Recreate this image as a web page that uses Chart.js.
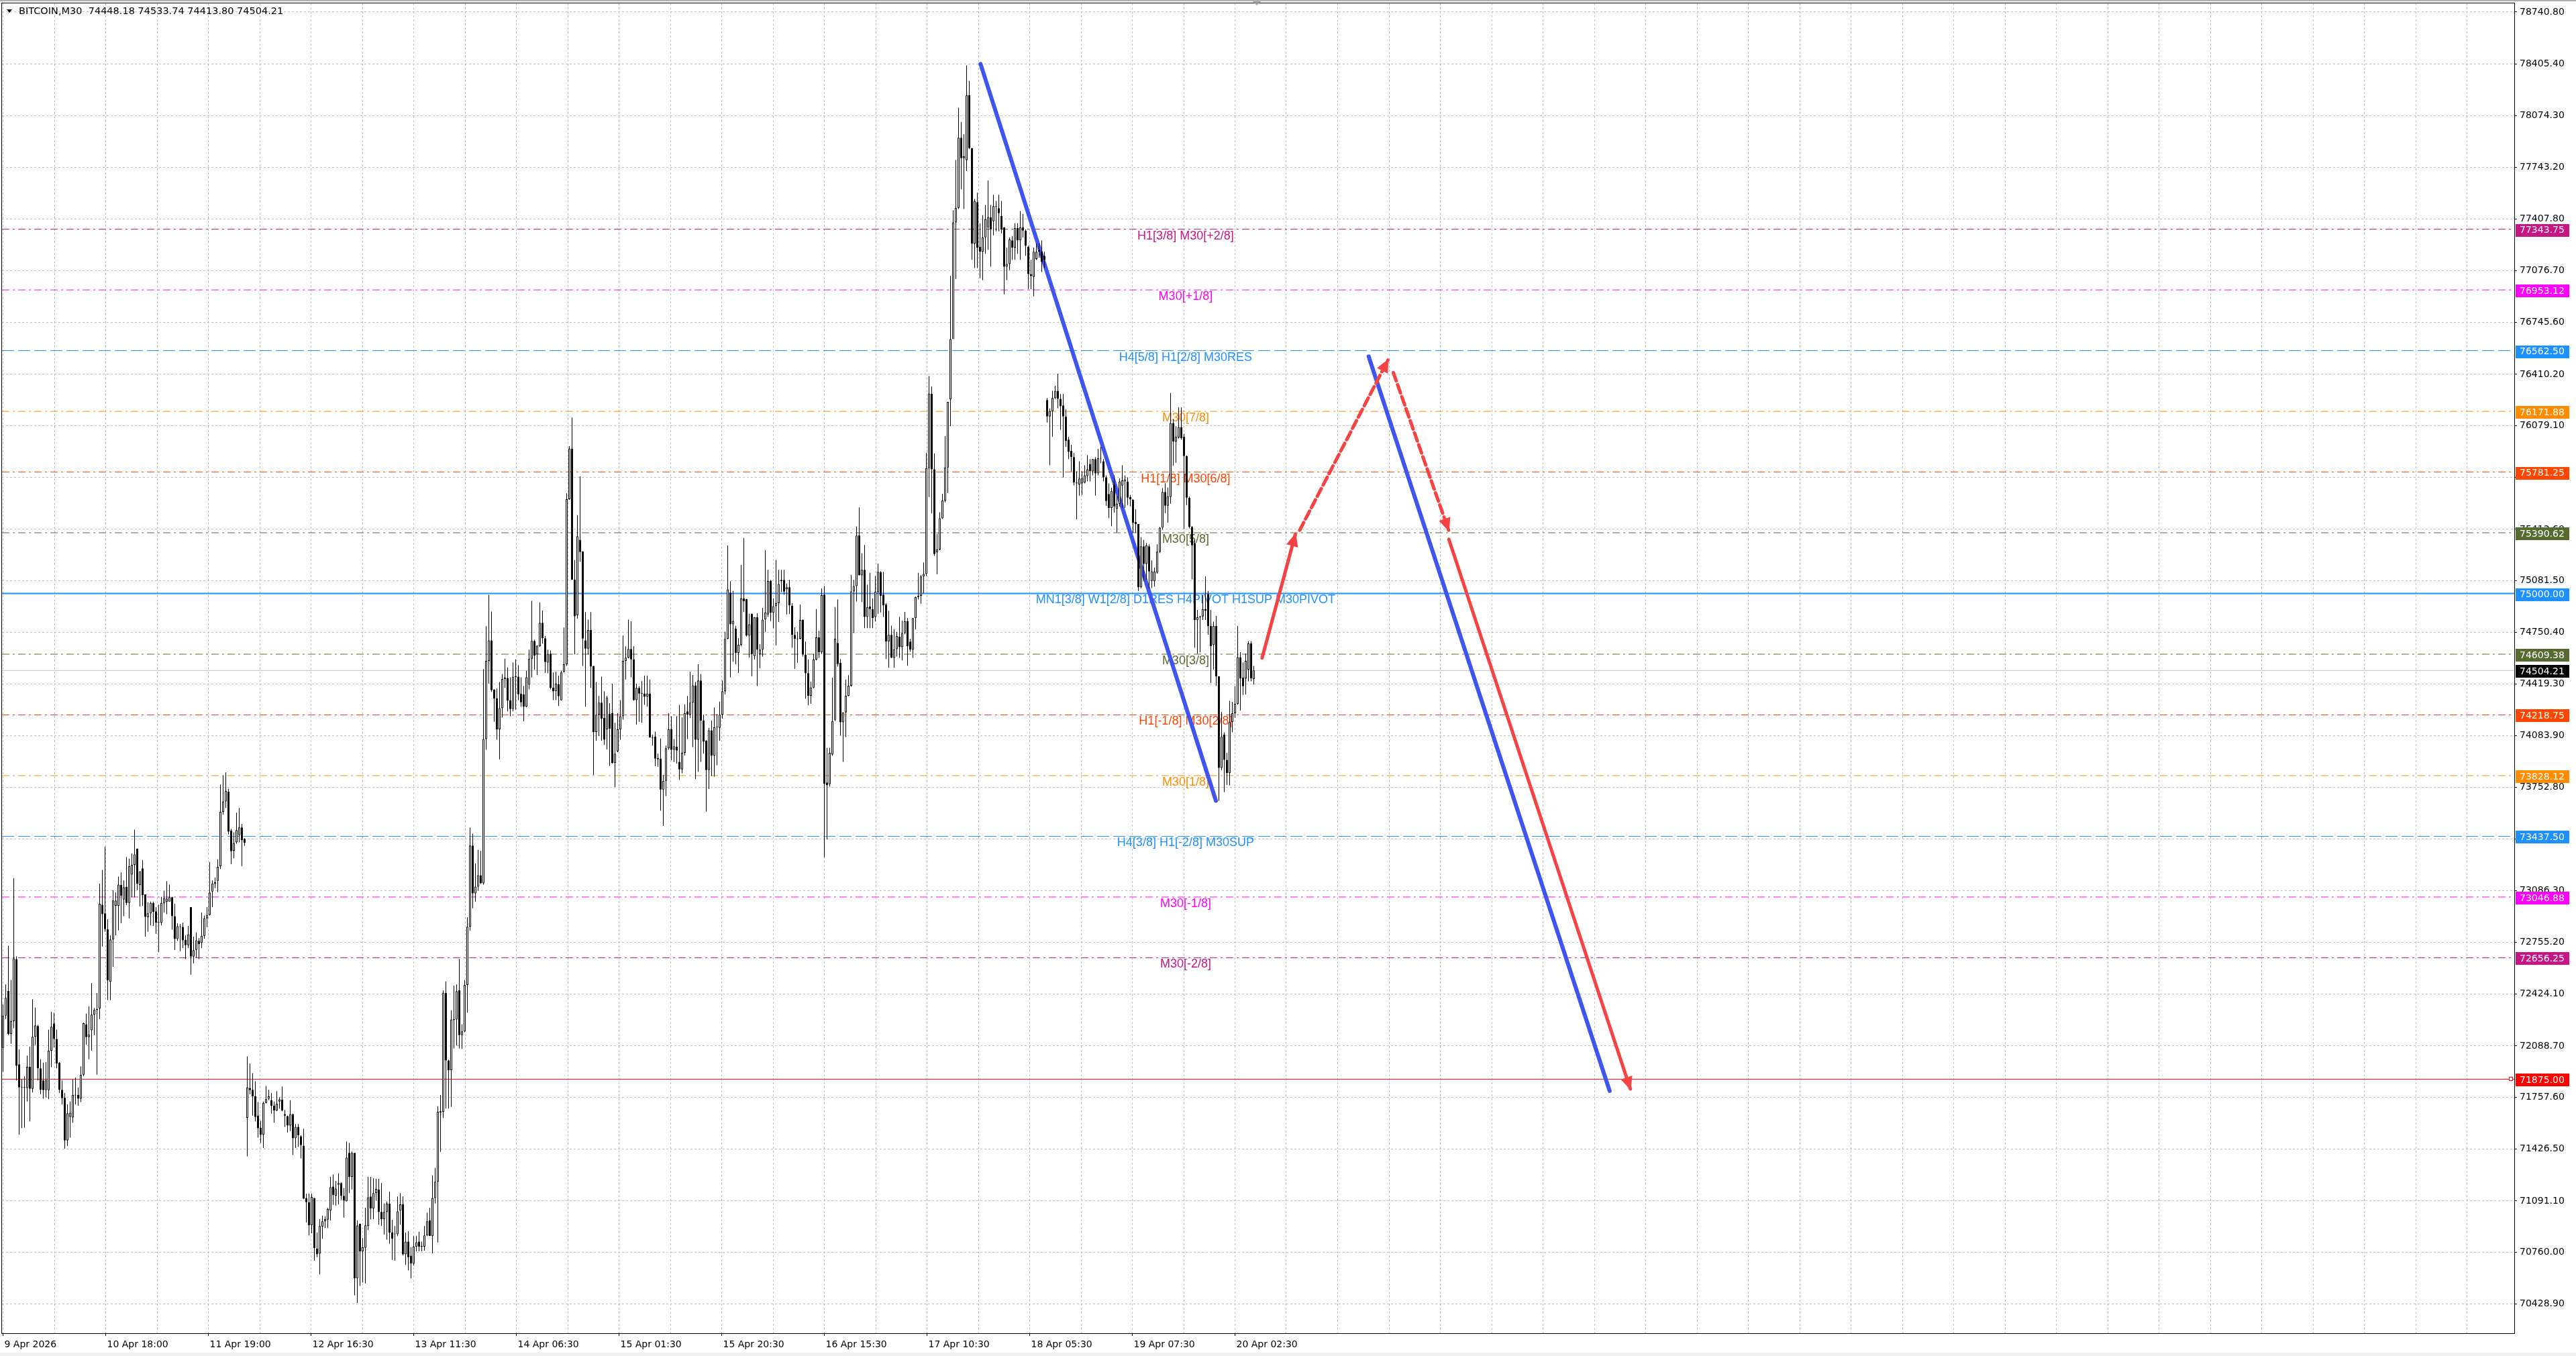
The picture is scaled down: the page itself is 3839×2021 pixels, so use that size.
<!DOCTYPE html>
<html><head><meta charset="utf-8">
<script src="https://cdn.jsdelivr.net/npm/chart.js@4.4.1/dist/chart.umd.min.js"></script>
<style>html,body{margin:0;padding:0;background:#fff;overflow:hidden}#wrap{width:3839px;height:2021px;position:relative}</style>
</head><body><div id="wrap"><canvas id="c"></canvas></div>
<script>
// ---------------- DATA ----------------
const SYMBOL = 'BITCOIN,M30';
const OPEN = [
72076,72284,72442,72166,72248,72647,71971,71822,71820,71818,
71954,71813,72148,72217,71945,71867,71804,71804,72058,72233,
72134,71981,71807,71755,71481,71632,71628,71771,71773,71749,
71904,72226,72145,72190,72290,72320,72330,72997,72942,72841,
72502,72774,72991,72991,73124,73031,73113,73009,73191,73254,
73359,73124,73231,73064,72917,72942,73009,72955,72883,72881,
73006,73015,73018,73046,72924,72777,72855,72855,72772,72737,
72982,72663,72707,72765,72752,72797,72910,72931,73082,73131,
73151,73245,73595,73662,73726,73475,73345,73399,73445,73495,
73421,71626,71818,71807,71767,71640,71563,71517,71722,71749,
71740,71704,71673,71731,71744,71650,71637,71577,71650,71495,
71568,71508,71447,71111,71084,70935,71111,70785,70752,70926,
70961,70971,71030,71184,71124,71196,71206,71124,71090,71401,
71247,71401,70594,70945,70767,70790,70930,71120,71044,71142,
71166,71021,70975,71021,71075,70888,70880,70877,71030,71069,
70748,70830,70739,70689,70797,70830,70797,70797,70870,70966,
70866,71111,71215,71661,71665,72430,71995,71933,72262,72259,
72448,72158,72182,72481,72856,73378,73070,73114,73187,73135,
74063,74566,74698,74383,74325,74126,74262,74450,74456,74314,
74256,74465,74465,74356,74352,74272,74413,74580,74695,74608,
74660,74811,74712,74555,74612,74394,74371,74415,74314,74496,
74545,75607,75933,75089,74860,75345,75271,74698,74645,74765,
74534,74109,74220,74298,74199,74126,74226,74230,73910,73983,
74126,74210,74566,74587,74643,74576,74314,74392,74356,74356,
74335,74356,74073,74078,73941,73937,73738,73795,74004,74126,
73994,74015,73916,73868,73975,74241,74220,74298,74409,74059,
74440,74182,74052,73864,74119,73958,74140,74136,74220,74371,
74708,75005,74802,74775,74618,74670,74968,74964,74729,74869,
74597,74848,74608,74639,74833,74865,75080,74876,74918,74937,
75088,75088,75027,75040,74921,74734,74709,74709,74830,74607,
74487,74342,74395,74575,74717,74621,74993,73784,73773,73964,
74187,74682,74554,74171,74235,74342,74406,75013,75048,75375,
75117,75152,74849,74916,74900,74849,75009,75136,74993,74929,
74690,74734,74586,74642,74722,74655,74745,74822,74690,74639,
74841,74977,74985,75109,75125,75806,76285,75799,75266,75283,
75484,75598,75811,76249,76636,77387,77481,77932,77801,77788,
78206,77866,77251,77518,77230,77199,77291,77356,77421,77395,
77492,77479,77429,77356,77102,77120,77272,77225,77351,77272,
77356,77335,77230,77055,77037,77152,77212,77199,77173,76244,
76139,76173,76257,76304,76252,76210,76139,75990,75917,75878,
75713,75700,75708,75713,75755,75833,75786,75865,75773,75870,
75851,75747,75640,75551,75700,75545,75577,75694,75721,75719,
75621,75603,75460,75447,75040,75303,75190,75303,75081,75079,
75134,75269,75423,75653,75565,75621,76097,75977,76004,76071,
76009,75884,75616,75428,75325,74828,74846,74852,74900,74997,
74791,74669,74791,74467,73878,74091,73929,73844,74172,74229,
74290,74590,74459,74453,74510,74678,74448.18];
const HIGH = [
72357,72484,72734,72514,73169,72665,72067,71876,71894,72027,
72085,72389,72335,72224,72003,71981,71985,72194,72308,72302,
72194,71985,71867,71786,71713,71731,71876,71885,71822,71958,
72239,72297,72344,72493,72333,72429,73133,73222,73372,72904,
72801,73091,73077,73178,73205,73154,73303,73294,73327,73481,
73359,73212,73285,73064,73013,73018,73018,72982,72997,73049,
73086,73149,73127,73049,73004,72877,72873,72882,72801,72861,
72982,72792,72819,72783,72946,72928,72982,73272,73154,73173,
73290,73771,73829,73849,73744,73486,73463,73590,73620,73517,
73426,72021,71976,71913,71862,71728,71608,71731,71831,71807,
71786,71731,71798,71758,71827,71677,71640,71740,71653,71586,
71586,71514,71556,71138,71138,71138,71111,70888,70975,70997,
70993,71048,71247,71262,71220,71269,71211,71175,71474,71465,
71410,71401,70966,70945,70852,71048,71247,71247,71238,71233,
71233,71207,71075,71088,71151,70970,70930,71120,71142,71120,
70888,70897,70794,70866,70866,70894,70830,70930,71015,71048,
71256,71305,71701,71773,72445,72504,72000,72318,72477,72484,
72648,72227,72513,72916,73493,73455,73263,73351,73345,74513,
74790,74991,74884,74383,74388,74430,74482,74580,74524,74461,
74555,74576,74538,74461,74404,74503,74639,74953,74702,74664,
74943,74890,74727,74639,74633,74492,74497,74471,74503,74781,
75644,75948,76132,75215,75504,75753,75271,74880,74832,74880,
74534,74430,74341,74465,74371,74341,74293,74419,74168,74230,
74314,74729,74660,74832,74821,74660,74419,74404,74436,74471,
74471,74446,74090,74111,73969,74067,73832,74021,74230,74210,
74063,74210,74283,74203,74287,74341,74497,74476,74430,74545,
74482,74220,74056,74136,74182,74266,74224,74304,74440,74754,
75309,75079,75016,74792,74712,75184,75357,74964,74869,74869,
74848,74873,74674,74907,75280,75152,75088,74969,75216,75152,
75152,75152,75064,75088,74937,74782,74753,74929,74833,74690,
74575,74434,74610,74900,74761,75032,75048,74007,74007,74458,
74913,74961,74578,74235,74446,74474,75120,75088,75431,75554,
75259,75312,75056,75133,74969,75112,75192,75144,75139,74937,
74889,74793,74769,74753,74849,74825,74881,74841,74709,74841,
74980,75133,75120,75200,75906,76399,76332,75901,75384,75522,
75640,76012,76233,77043,77465,77789,78126,78034,77955,78398,
78298,77866,77539,77578,77382,77434,77500,77657,77500,77565,
77526,77565,77526,77356,77225,77290,77300,77382,77382,77461,
77442,77343,77238,77147,77225,77251,77251,77272,77199,76257,
76191,76304,76336,76414,76283,76283,76184,76008,75956,75904,
75786,75851,75786,75825,75891,75865,75865,75878,75930,75943,
75865,75760,75708,75680,75760,75629,75740,75825,75760,75747,
75634,75606,75541,75447,75363,75344,75325,75316,75213,75166,
75316,75428,75678,75709,75681,76290,76122,76075,76197,76197,
76028,75888,75625,75434,75344,74894,74857,74990,75110,75016,
74894,74819,74856,74467,74238,74107,73975,74309,74303,74403,
74791,74622,74556,74613,74692,74692,74533.74];
const LOW = [
71922,72262,72157,72103,72203,71867,71517,71559,71564,71731,
71604,71789,72097,71867,71777,71749,71758,71746,71952,72079,
71945,71786,71713,71428,71445,71499,71595,71713,71704,71728,
71894,72097,72003,72058,72157,71904,72261,72728,72823,72384,
72384,72598,72801,72832,72879,72924,72995,72910,73046,73046,
73091,72986,72991,72792,72823,72864,72861,72810,72692,72864,
72946,72937,73018,72837,72707,72765,72698,72719,72647,72719,
72547,72620,72656,72647,72719,72779,72852,72928,72982,73104,
73078,73227,73577,73620,73450,73258,73296,73390,73399,73245,
73376,71378,71777,71640,71604,71499,71465,71432,71719,71740,
71653,71595,71668,71686,71668,71568,71532,71541,71387,71432,
71441,71365,71103,70953,70870,70884,70707,70730,70618,70848,
70917,70917,70966,71066,71062,71069,71099,70984,71088,71142,
71166,70485,70435,70545,70567,70561,70903,70972,70975,71093,
70939,70930,70875,70843,70816,70712,70707,70866,70939,70740,
70680,70645,70594,70676,70767,70767,70767,70772,70866,70866,
70754,71075,70825,71407,71625,71686,71686,71697,72073,72091,
72073,72069,72178,72303,72830,72974,73016,73089,73131,73127,
73994,74419,74367,74174,74059,73933,74203,74392,74241,74210,
74241,74252,74314,74272,74178,74268,74383,74461,74509,74476,
74656,74677,74488,74486,74383,74314,74314,74276,74310,74492,
74534,75603,75089,74608,74838,75204,74534,74272,74608,74392,
73832,74053,74084,74053,74025,73996,73891,73906,73755,73979,
74059,74189,74446,74582,74461,74310,74157,74174,74168,74283,
74272,74073,74021,73889,73885,73602,73504,73696,73994,73927,
73916,73906,73801,73843,73958,74063,74199,74011,73805,73853,
73916,73969,73596,73742,73826,73822,73895,74053,74195,74350,
74706,74461,74561,74545,74488,74660,74880,74723,74587,74467,
74576,74404,74519,74593,74753,74849,74822,74777,74666,74817,
75009,74993,74865,74868,74650,74514,74554,74706,74594,74323,
74280,74291,74390,74570,74586,74610,73302,73417,73757,73956,
74179,74530,74087,73916,74076,74339,74400,74745,74948,75117,
74945,74777,74777,74777,74777,74820,74868,74878,74849,74578,
74522,74586,74522,74594,74586,74570,74737,74535,74626,74586,
74769,74961,74934,75000,75112,75621,75515,75242,75124,75278,
75479,75586,75645,76076,77024,77024,77474,77600,77474,77718,
77860,77147,77094,77094,77029,77016,77186,77212,77102,77304,
77330,77330,77317,76924,77016,77081,77146,77147,77186,77147,
77291,77173,76958,76958,76911,77147,77160,77068,77094,76100,
75825,76008,76250,76192,76053,75747,75943,75865,75786,75695,
75477,75629,75634,75708,75721,75721,75760,75629,75760,75838,
75721,75564,75485,75433,75520,75393,75560,75551,75551,75569,
75560,75391,75391,75016,75034,75081,75091,75035,75035,75044,
75128,75260,75410,75516,75456,75578,75822,75841,75996,75990,
75415,75569,75419,75091,74650,74613,74622,74830,74830,74735,
74425,74510,74407,73666,73863,73722,73769,73765,74107,74200,
74285,74247,74347,74350,74435,74435,74413.80];
const CLOSE = [
72284,72398,72166,72248,72652,71961,71822,71820,71822,71954,
71813,72148,72221,71945,71807,71804,71867,72058,72212,72134,
71976,71807,71753,71481,71655,71659,71773,71773,71749,71904,
72235,72145,72163,72290,72320,72326,73004,72937,72841,72511,
72774,73024,73024,73127,73055,73109,73009,73245,73254,73321,
73133,73212,73060,72919,72942,73009,72951,72883,72881,73009,
73040,73037,73046,72924,72777,72859,72859,72768,72737,72806,
72663,72705,72768,72743,72797,72910,72931,73076,73134,73142,
73241,73595,73662,73729,73468,73341,73394,73477,73495,73414,
73396,71822,71804,71764,71632,71559,71517,71722,71746,71764,
71704,71673,71717,71744,71673,71640,71577,71650,71495,71568,
71514,71450,71106,71084,70935,71117,70788,70748,70930,70961,
70975,71039,71180,71130,71171,71206,71124,71093,71371,71247,
71401,70594,70934,70767,70794,70935,71115,71044,71142,71169,
71021,70975,71021,71075,70888,70848,70877,71024,71069,70748,
70830,70730,70689,70797,70826,70797,70799,70870,70961,70866,
71111,71215,71665,71668,72432,71995,71933,72259,72254,72441,
72158,72182,72481,72856,73378,73070,73114,73187,73135,74063,
74566,74698,74377,74325,74126,74262,74450,74461,74310,74256,
74465,74463,74352,74300,74272,74461,74580,74695,74601,74664,
74811,74712,74559,74612,74392,74371,74419,74339,74492,74545,
75607,75933,75089,74853,75368,75267,74710,74645,74765,74530,
74109,74220,74298,74195,74059,74331,74130,73910,73969,74126,
74210,74566,74587,74643,74576,74314,74392,74356,74354,74335,
74356,74073,74071,73937,73933,73738,73795,74004,74126,73994,
74017,73990,73868,73975,74230,74220,74298,74409,74059,74440,
74182,74048,73864,74119,73958,74140,74144,74220,74371,74708,
75026,74802,74823,74618,74670,74968,74949,74729,74802,74608,
74848,74639,74639,74832,74878,75080,74876,74918,74937,75061,
75080,75012,75040,74924,74734,74709,74707,74830,74607,74487,
74342,74395,74575,74717,74621,74989,73776,73768,73975,74179,
74709,74546,74171,74235,74342,74406,75013,75048,75372,75117,
75152,74849,74913,74900,74841,75012,75139,74985,74924,74690,
74734,74586,74642,74726,74655,74745,74822,74661,74639,74841,
74977,74985,75109,75125,75806,76285,75799,75254,75283,75484,
75598,75811,76233,76636,77387,77481,77932,77801,77813,78204,
77866,77251,77526,77225,77199,77291,77408,77421,77343,77492,
77490,77447,77343,77102,77120,77277,77225,77351,77272,77356,
77335,77238,77055,77042,77199,77199,77199,77134,77147,76139,
76173,76257,76304,76252,76205,76139,75982,75912,75878,75713,
75708,75739,75742,75760,75799,75786,75865,75773,75870,75868,
75747,75595,75551,75660,75560,75577,75721,75728,75734,75616,
75606,75456,75447,75040,75303,75190,75310,75141,75143,75141,
75269,75423,75653,75565,75625,76097,75977,76009,76071,76000,
75884,75616,75428,75310,74828,74847,74852,74900,74890,74791,
74660,74791,74467,73878,74079,73929,73844,74172,74229,74290,
74590,74453,74403,74566,74678,74453,74504.21];

const X_TICK_LABELS = ['9 Apr 2026','10 Apr 18:00','11 Apr 19:00','12 Apr 16:30','13 Apr 11:30','14 Apr 06:30','15 Apr 01:30','15 Apr 20:30','16 Apr 15:30','17 Apr 10:30','18 Apr 05:30','19 Apr 07:30','20 Apr 02:30'];
const Y_TICKS = [78740.80,78405.40,78074.30,77743.20,77407.80,77076.70,76745.60,76410.20,76079.10,75748.00,75412.60,75081.50,74750.40,74419.30,74083.90,73752.80,73421.70,73086.30,72755.20,72424.10,72088.70,71757.60,71426.50,71091.10,70760.00,70428.90];

const LEVEL_PRICES = [77343.75,76953.12,76562.50,76171.88,75781.25,75390.62,75000.00,74609.38,74218.75,73828.12,73437.50,73046.88,72656.25,71875.00];
const LEVEL_LABELS = ['H1[3/8] M30[+2/8]','M30[+1/8]','H4[5/8] H1[2/8] M30RES','M30[7/8]','H1[1/8] M30[6/8]','M30[5/8]','MN1[3/8] W1[2/8] D1RES H4PIVOT H1SUP M30PIVOT','M30[3/8]','H1[-1/8] M30[2/8]','M30[1/8]','H4[3/8] H1[-2/8] M30SUP','M30[-1/8]','M30[-2/8]',''];

// drawn objects: [bar index, price]
const BLUE_LINE_1 = [[364.2,78407],[451.9,73666]];
const BLUE_LINE_2 = [[508.8,76525],[598.6,71799]];
const RED_UP      = [[469.1,74585],[481.5,75381]];
const RED_DASH_UP = [[483.1,75407],[516.0,76502]];
const RED_DASH_DN = [[518.0,76421],[538.6,75407]];
const RED_DOWN    = [[538.7,75348],[606.3,71812]];

// ---------------- STYLE / LAYOUT ----------------
const LEVEL_COLORS = ['#C71585','#FF00FF','#1E90FF','#FF8C00','#FF4500','#556B2F','#1E90FF','#556B2F','#FF4500','#FF8C00','#1E90FF','#FF00FF','#C71585','#FF0000'];
const DASHDOT = [11,5,3,5], DASH = [18,6];
const LEVEL_DASH = [DASHDOT,DASHDOT,DASH,DASHDOT,DASHDOT,DASHDOT,[],DASHDOT,DASHDOT,DASHDOT,DASH,DASHDOT,DASHDOT,[]];
const LEVEL_WIDTH = [1,1,1,1,1,1,2,1,1,1,1,1,1,1];
const X_MIN = -0.375, X_MAX = 935.625, Y_MIN = 70240.6, Y_MAX = 78796.9;
const GRID_STEP = 19.125, GRID_COUNT = 48, LABEL_BAR = 440.6;
const BLUE = '#3F55F0', RED = '#F54242';
const FONT = '"DejaVu Sans", Verdana, sans-serif';

const N = CLOSE.length;
const wickData = [], bodyData = [];
for (let i = 0; i < N; i++) {
  wickData.push({x: i, y: [LOW[i], HIGH[i]]});
  bodyData.push({x: i, y: [Math.min(OPEN[i], CLOSE[i]), Math.max(OPEN[i], CLOSE[i])]});
}
const pts = a => a.map(p => ({x: p[0], y: p[1]}));
const datasets = [];
LEVEL_PRICES.forEach((p, k) => datasets.push({
  type: 'line', data: [{x: X_MIN, y: p}, {x: X_MAX, y: p}], borderColor: LEVEL_COLORS[k],
  borderWidth: LEVEL_WIDTH[k], borderDash: LEVEL_DASH[k], pointRadius: 0, fill: false, order: 20
}));
datasets.push({type: 'line', data: [{x: X_MIN, y: CLOSE[N-1]}, {x: X_MAX, y: CLOSE[N-1]}], borderColor: '#C0C0C0', borderWidth: 1, pointRadius: 0, fill: false, order: 19});
const seg = (a, color, w, dash, order) => ({type: 'line', data: pts(a), borderColor: color, borderWidth: w, borderDash: dash, borderCapStyle: 'round', pointRadius: 0, fill: false, tension: 0, order});
datasets.push(seg(BLUE_LINE_1, BLUE, 6, [], 15));
datasets.push(seg(BLUE_LINE_2, BLUE, 6, [], 15));
datasets.push({type: 'bar', data: wickData, backgroundColor: '#000', borderWidth: 0, barThickness: 1, grouped: false, inflateAmount: 0, order: 6});
datasets.push({type: 'bar', data: bodyData, grouped: false, barThickness: 3, inflateAmount: 0, minBarLength: 1,
  backgroundColor: c => (CLOSE[c.dataIndex] >= OPEN[c.dataIndex] ? '#FFFFFF' : '#000000'),
  borderColor: '#000', borderWidth: 1, borderSkipped: false, order: 5});
datasets.push(seg(RED_UP, RED, 5, [], 1));
datasets.push(seg(RED_DASH_UP, RED, 5, [13, 6], 1));
datasets.push(seg(RED_DASH_DN, RED, 5, [13, 6], 1));
datasets.push(seg(RED_DOWN, RED, 5, [], 1));

function arrowHead(ctx, x0, y0, x1, y1, len, hw) {
  const dx = x1 - x0, dy = y1 - y0, L = Math.hypot(dx, dy), ux = dx / L, uy = dy / L;
  const bx = x1 - ux * len, by = y1 - uy * len;
  ctx.beginPath();
  ctx.moveTo(x1 + ux * 2, y1 + uy * 2);
  ctx.lineTo(bx - uy * hw, by + ux * hw);
  ctx.lineTo(bx + uy * hw, by - ux * hw);
  ctx.closePath(); ctx.fill();
}

const overlay = {
  id: 'overlay',
  beforeDatasetsDraw(chart) {
    const {ctx, scales: {x, y}} = chart;
    ctx.save();
    ctx.font = '18px "Liberation Sans", Arial, sans-serif';
    ctx.textAlign = 'center'; ctx.textBaseline = 'middle';
    LEVEL_PRICES.forEach((p, k) => {
      if (!LEVEL_LABELS[k]) return;
      ctx.fillStyle = LEVEL_COLORS[k];
      ctx.fillText(LEVEL_LABELS[k], x.getPixelForValue(LABEL_BAR), y.getPixelForValue(p) + 10);
    });
    ctx.restore();
  },
  afterDatasetsDraw(chart) {
    const {ctx, scales: {x, y}} = chart;
    ctx.save();
    ctx.fillStyle = RED;
    [RED_UP, RED_DASH_UP, RED_DASH_DN, RED_DOWN].forEach(a => {
      arrowHead(ctx, x.getPixelForValue(a[0][0]), y.getPixelForValue(a[0][1]), x.getPixelForValue(a[1][0]), y.getPixelForValue(a[1][1]), 18, 9);
    });
    const ry = Math.round(y.getPixelForValue(LEVEL_PRICES[LEVEL_PRICES.length - 1]));
    ctx.fillStyle = '#fff'; ctx.fillRect(3739, ry - 2, 5, 5);
    ctx.strokeStyle = '#FF0000'; ctx.lineWidth = 1; ctx.strokeRect(3739.5, ry - 2.5, 5, 5);
    ctx.restore();
  },
  afterDraw(chart) {
    const {ctx, chartArea: a, scales: {y}} = chart;
    ctx.save();
    ctx.strokeStyle = '#000'; ctx.lineWidth = 1;
    ctx.strokeRect(a.left - 0.5, a.top - 0.5, a.right - a.left + 1, a.bottom - a.top + 1);
    ctx.fillStyle = '#B0B0B0'; ctx.fillRect(0, 0, 3839, 2);
    ctx.fillStyle = '#EFEFEF'; ctx.fillRect(0, 2016, 3839, 5);
    ctx.fillStyle = '#A0A0A0';
    ctx.beginPath(); ctx.moveTo(1867, 2); ctx.lineTo(1879, 2); ctx.lineTo(1873, 8); ctx.closePath(); ctx.fill();
    ctx.font = '14px ' + FONT; ctx.textAlign = 'left'; ctx.textBaseline = 'middle';
    const box = (p, col) => {
      const py = y.getPixelForValue(p);
      ctx.fillStyle = col; ctx.fillRect(3749, Math.round(py - 8), 80, 19);
      ctx.fillStyle = '#fff'; ctx.fillText(p.toFixed(2), 3755, py + 2);
    };
    LEVEL_PRICES.forEach((p, k) => box(p, LEVEL_COLORS[k]));
    box(CLOSE[N - 1], '#000');
    ctx.fillStyle = '#000';
    ctx.beginPath(); ctx.moveTo(10, 14); ctx.lineTo(18, 14); ctx.lineTo(14, 19); ctx.closePath(); ctx.fill();
    ctx.font = '14.5px ' + FONT;
    const L = N - 1;
    ctx.fillText(SYMBOL + '  ' + [OPEN[L], HIGH[L], LOW[L], CLOSE[L]].map(v => v.toFixed(2)).join(' '), 28, 17);
    ctx.restore();
  }
};

new Chart(document.getElementById('c'), {
  type: 'bar',
  data: {datasets},
  plugins: [overlay],
  options: {
    responsive: true, maintainAspectRatio: false, devicePixelRatio: 1, animation: false, events: [],
    layout: {padding: {left: 3, top: 5, right: 0, bottom: 0}},
    plugins: {legend: {display: false}, tooltip: {enabled: false}},
    scales: {
      x: {
        type: 'linear', min: X_MIN, max: X_MAX, offset: false,
        afterBuildTicks: s => { s.ticks = []; for (let k = 0; k <= GRID_COUNT; k++) s.ticks.push({value: k * GRID_STEP}); },
        afterFit: s => { s.height = 34; s.paddingLeft = 0; s.paddingRight = 0; s.paddingTop = 0; s.paddingBottom = 0; },
        grid: {offset: false, color: '#C0C0C0', lineWidth: 1, tickLength: 4, tickBorderDash: [],
          tickColor: c => (c.index % 2 === 0 && c.index / 2 < X_TICK_LABELS.length) ? '#000' : 'rgba(0,0,0,0)'},
        border: {display: false, dash: [3, 3]},
        ticks: {autoSkip: false, maxRotation: 0, minRotation: 0, align: 'start', labelOffset: 2, padding: 5,
          color: '#000', font: {family: FONT, size: 14},
          callback: (v, i) => (i % 2 === 0 && X_TICK_LABELS[i / 2] !== undefined) ? X_TICK_LABELS[i / 2] : ''}
      },
      y: {
        type: 'linear', position: 'right', min: Y_MIN, max: Y_MAX, beginAtZero: false,
        afterBuildTicks: s => { s.ticks = Y_TICKS.map(v => ({value: v})); },
        afterFit: s => { s.width = 92; s.paddingTop = 0; s.paddingBottom = 0; s.paddingLeft = 0; s.paddingRight = 0; },
        grid: {color: '#C0C0C0', lineWidth: 1, tickLength: 4, tickColor: '#000', tickBorderDash: []},
        border: {display: false, dash: [3, 3]},
        ticks: {autoSkip: false, padding: 4, color: '#000', font: {family: FONT, size: 14},
          callback: v => Number(v).toFixed(2)}
      }
    }
  }
});
</script>
</body></html>
